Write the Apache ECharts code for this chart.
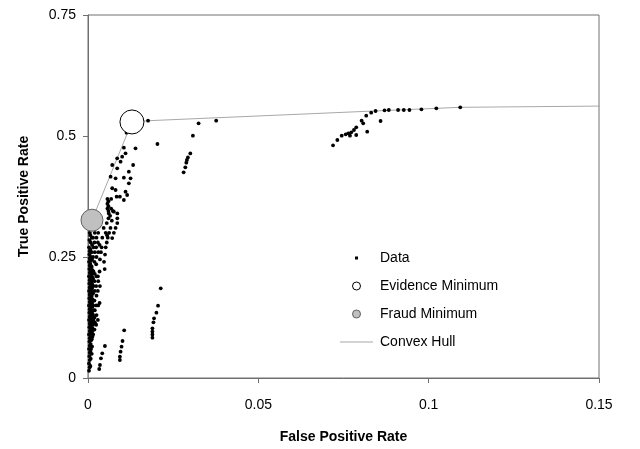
<!DOCTYPE html>
<html>
<head>
<meta charset="utf-8">
<script src="https://cdn.jsdelivr.net/npm/echarts@6/dist/echarts.min.js"></script>
<style>
  html, body { margin: 0; padding: 0; background: #fff; }
  #chart { width: 640px; height: 449px; }
</style>
</head>
<body>
<div id="chart"></div>
<script>
// ticks
var xTicks = [0, 0.05, 0.1, 0.15];
var yTicks = [0, 0.25, 0.5, 0.75];

// dense band hugging the y axis
var bandPoints = [
  [0.0003,0.015],[0.0003,0.03],[0.0004,0.045],[0.0003,0.06],[0.0004,0.075],[0.0003,0.09],[0.0004,0.105],
  [0.0003,0.12],[0.0004,0.135],[0.0003,0.15],[0.0004,0.165],[0.0003,0.18],[0.0004,0.195],[0.0003,0.21],
  [0.0004,0.225],[0.0003,0.24],[0.0004,0.255],[0.0003,0.27],[0.0004,0.285],
  [0.0005,0.022],[0.0005,0.037],[0.0005,0.052],[0.0005,0.067],[0.0005,0.082],[0.0005,0.097],[0.0005,0.112],
  [0.0005,0.127],[0.0005,0.142],[0.0005,0.157],[0.0005,0.172],[0.0005,0.187],[0.0005,0.202],[0.0005,0.217],
  [0.0005,0.232],[0.0005,0.247],[0.0005,0.262],[0.0005,0.3],
  [0.0007,0.025],[0.0008,0.04],[0.0007,0.055],[0.0008,0.07],[0.0007,0.085],[0.0008,0.1],[0.0007,0.115],
  [0.0008,0.13],[0.0007,0.145],[0.0008,0.16],[0.0007,0.175],[0.0008,0.19],[0.0007,0.205],[0.0008,0.22],
  [0.0007,0.235],[0.0008,0.25],[0.0007,0.265],[0.0008,0.28],[0.0007,0.295],[0.0008,0.31],
  [0.0009,0.06],[0.0009,0.078],[0.0009,0.092],[0.0009,0.108],[0.0009,0.122],[0.0009,0.138],[0.0009,0.152],
  [0.0009,0.168],[0.0009,0.182],[0.0009,0.198],[0.0009,0.212],[0.0009,0.228],[0.0009,0.242],
  [0.0011,0.05],[0.0012,0.065],[0.0011,0.08],[0.0012,0.095],[0.0011,0.11],[0.0012,0.125],[0.0011,0.14],
  [0.0012,0.155],[0.0011,0.17],[0.0012,0.185],[0.0011,0.2],[0.0012,0.215],[0.0011,0.23],[0.0012,0.245],
  [0.0011,0.26],[0.0012,0.275],[0.0011,0.29],
  [0.0013,0.085],[0.0013,0.103],[0.0013,0.117],[0.0013,0.133],[0.0013,0.147],[0.0013,0.163],[0.0013,0.178],
  [0.0013,0.193],[0.0013,0.208],[0.0013,0.223],
  [0.0015,0.09],[0.0016,0.1],[0.0015,0.11],[0.0016,0.12],[0.0015,0.13],[0.0016,0.14],[0.0015,0.15],
  [0.0016,0.16],[0.0015,0.175],[0.0016,0.19],[0.0015,0.205],[0.0016,0.22],[0.0015,0.25],[0.0016,0.27],[0.0015,0.29],
  [0.0019,0.1],[0.002,0.115],[0.0019,0.125],[0.002,0.14],[0.0019,0.16],[0.002,0.18],[0.0019,0.2],
  [0.002,0.215],[0.0019,0.24],[0.002,0.26],[0.0019,0.28],[0.002,0.3],[0.0019,0.315],
  [0.0024,0.11],[0.0025,0.13],[0.0024,0.15],[0.0025,0.17],[0.0024,0.19],[0.0025,0.21],[0.0024,0.235],
  [0.0025,0.25],[0.0024,0.27],[0.0025,0.29],
  [0.0029,0.12],[0.003,0.15],[0.0029,0.18],[0.003,0.2],[0.0029,0.21],[0.003,0.26],[0.0029,0.28],[0.003,0.3],
  [0.0034,0.155],[0.0035,0.19],[0.0034,0.22],[0.0035,0.245],[0.0034,0.275]
];

// cluster just right of the band, up to the evidence minimum
var upperPoints = [
  [0.0038,0.26],[0.004,0.27],[0.0042,0.29],[0.0046,0.31],[0.0047,0.24],[0.0049,0.225],[0.005,0.255],
  [0.0052,0.27],[0.0052,0.3],[0.0055,0.28],[0.0055,0.32],[0.0058,0.29],[0.006,0.33],[0.0062,0.3],
  [0.0066,0.31],[0.007,0.325],[0.0065,0.335],[0.0073,0.345],[0.0061,0.34],[0.0076,0.3436],[0.0086,0.34],
  [0.0086,0.33],[0.0086,0.32],[0.0081,0.31],[0.0076,0.3],[0.0071,0.289],[0.0056,0.295],
  [0.0057,0.37],[0.0057,0.36],[0.0057,0.35],[0.006,0.365],[0.006,0.355],[0.006,0.345],[0.0068,0.37],
  [0.0068,0.35],[0.0084,0.3746],
  [0.01053,0.3678],[0.00936,0.3746],[0.01149,0.3781],[0.01102,0.3849],[0.0081,0.3884],[0.00711,0.392],
  [0.01199,0.4023],[0.01249,0.4126],[0.01053,0.4138],[0.0081,0.4126],[0.00664,0.4159],[0.01199,0.4262],
  [0.00857,0.4333],[0.01325,0.4401],[0.00711,0.4401],[0.00956,0.4469],[0.00857,0.4539],[0.01003,0.4572],
  [0.01102,0.4643],[0.01053,0.4758],[0.01395,0.4746],[0.01131,0.5068],[0.02038,0.4835]
];

// middle group and points along the top of the hull
var middlePoints = [
  [0.01763,0.5316],[0.03246,0.5262],[0.03763,0.5316],[0.03079,0.5006],
  [0.03003,0.4641],[0.02933,0.4558],[0.02904,0.4504],[0.02886,0.4448],[0.02857,0.4353],[0.02807,0.425]
];

// low groups under 0.2
var lowPoints = [
  [0.02135,0.1853],[0.02056,0.1494],[0.02008,0.1349],[0.01939,0.1233],[0.01921,0.115],
  [0.01891,0.1027],[0.01891,0.096],[0.01891,0.09],[0.01891,0.0833],
  [0.01062,0.0985],[0.01014,0.0764],[0.00985,0.0647],[0.00956,0.0543],[0.00936,0.044],[0.00936,0.0372],
  [0.00497,0.0661],[0.00418,0.051],[0.0038,0.0407],[0.00351,0.0269],[0.0033,0.0186]
];

// right cluster near the hull
var rightPoints = [
  [0.07193,0.4808],[0.07319,0.4917],[0.07447,0.5006],[0.07564,0.5034],[0.0764,0.5055],[0.0769,0.5006],
  [0.07728,0.5076],[0.07807,0.5124],[0.07874,0.518],[0.07874,0.5021],[0.08032,0.5316],[0.08079,0.5262],
  [0.08196,0.5089],[0.08167,0.5419],[0.08313,0.5481],[0.08442,0.5517],[0.08588,0.531],[0.08705,0.5531],
  [0.0883,0.5537],[0.09103,0.5537],[0.0927,0.5537],[0.09436,0.5537],[0.09787,0.5551],[0.10225,0.5572],
  [0.10927,0.5593]
];

var evidenceMin = [[0.0129, 0.529]];
var fraudMin = [[0.00117, 0.326]];
var hullPoints = [[0, 0], [0.00117, 0.326], [0.0129, 0.529], [0.01763, 0.5316], [0.10927, 0.5593], [0.1535, 0.562]];

var allData = bandPoints.concat(upperPoints, middlePoints, lowPoints, rightPoints);

var font = "'Liberation Sans', Arial, sans-serif";
var chart = echarts.init(document.getElementById('chart'));

var option = {
  animation: false,
  backgroundColor: '#fff',
  grid: {
    left: 88, right: 41, top: 15, bottom: 71,
    show: true, borderColor: '#707070', borderWidth: 1
  },
  legend: {
    orient: 'vertical',
    left: 335, top: 246,
    itemWidth: 33, itemHeight: 8, itemGap: 14,
    textStyle: { fontFamily: font, fontSize: 14, color: '#000', padding: [0, 0, 0, 2] },
    data: [
      { name: 'Data', icon: 'path://M0,0M33,8M15,2.5h3v3h-3z', itemStyle: { color: '#000', borderWidth: 0 } },
      { name: 'Evidence Minimum', icon: 'circle', itemStyle: { color: '#fff', borderColor: '#000', borderWidth: 1 } },
      { name: 'Fraud Minimum', icon: 'circle', itemStyle: { color: '#c0c0c0', borderColor: '#606060', borderWidth: 1 } },
      { name: 'Convex Hull', icon: 'path://M0,0M33,8M0,3.5h33v1h-33z', itemStyle: { color: '#a8a8a8', borderWidth: 0 } }
    ]
  },
  xAxis: {
    type: 'value',
    min: xTicks[0], max: xTicks[xTicks.length - 1], interval: 0.05,
    name: 'False Positive Rate', nameLocation: 'middle', nameGap: 52,
    nameTextStyle: { fontFamily: font, fontSize: 14, fontWeight: 'bold', color: '#000' },
    axisLine: { lineStyle: { color: '#707070' } },
    axisTick: { inside: false, length: 5, lineStyle: { color: '#707070' } },
    axisLabel: { fontFamily: font, fontSize: 14, color: '#000', margin: 20 },
    splitLine: { show: false }
  },
  yAxis: {
    type: 'value',
    min: yTicks[0], max: yTicks[yTicks.length - 1], interval: 0.25,
    name: 'True Positive Rate', nameLocation: 'middle', nameGap: 57,
    nameTextStyle: { fontFamily: font, fontSize: 14, fontWeight: 'bold', color: '#000' },
    axisLine: { lineStyle: { color: '#707070' } },
    axisTick: { inside: false, length: 5, lineStyle: { color: '#707070' } },
    axisLabel: { fontFamily: font, fontSize: 14, color: '#000', margin: 12 },
    splitLine: { show: false }
  },
  series: [
    {
      name: 'Convex Hull',
      type: 'line',
      data: hullPoints,
      clip: false,
      showSymbol: false,
      symbol: 'none',
      lineStyle: { color: '#a8a8a8', width: 1 },
      itemStyle: { color: '#a8a8a8' },
      z: 1
    },
    {
      name: 'Data',
      type: 'scatter',
      data: allData,
      symbol: 'circle',
      symbolSize: 3.8,
      itemStyle: { color: '#000', opacity: 1 },
      z: 2
    },
    {
      name: 'Evidence Minimum',
      type: 'scatter',
      data: evidenceMin,
      symbol: 'circle',
      symbolSize: 24,
      itemStyle: { color: '#fff', borderColor: '#000', borderWidth: 1, opacity: 1 },
      z: 3
    },
    {
      name: 'Fraud Minimum',
      type: 'scatter',
      data: fraudMin,
      symbol: 'circle',
      symbolSize: 22,
      itemStyle: { color: '#c0c0c0', borderColor: '#606060', borderWidth: 1, opacity: 1 },
      z: 3
    }
  ]
};

option && chart.setOption(option);
</script>
</body>
</html>
